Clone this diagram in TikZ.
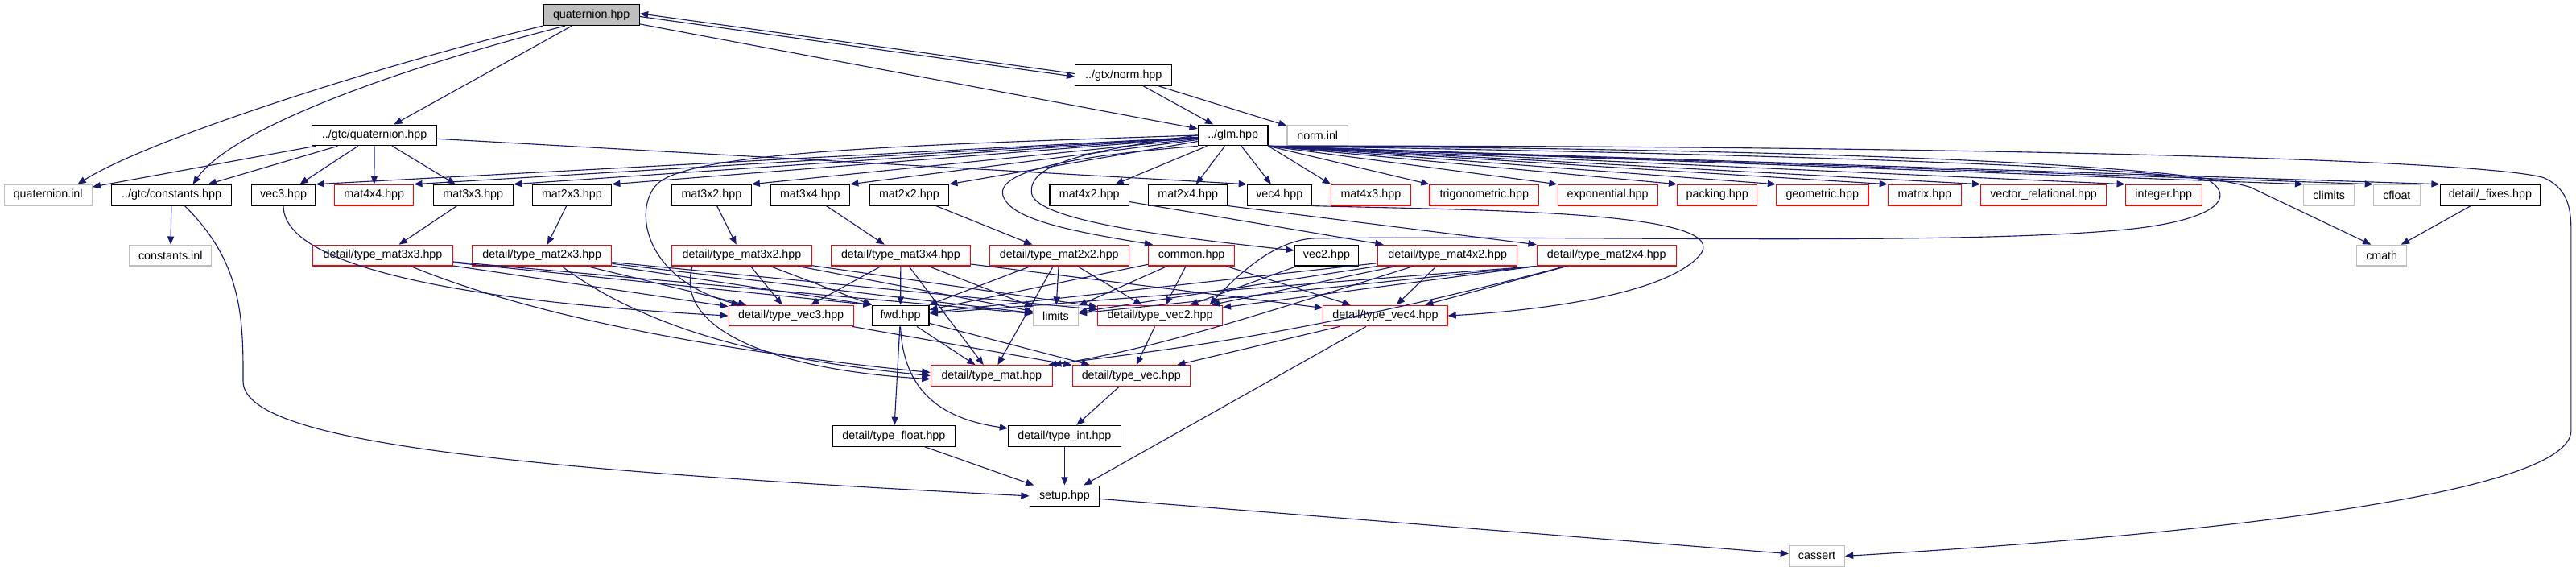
\documentclass[tikz,border=0pt]{standalone}
\usepackage{fontspec}
\setmainfont{Liberation Sans}
\usetikzlibrary{arrows.meta}
\definecolor{edgec}{HTML}{191970}
\definecolor{greyb}{HTML}{BFBFBF}
\begin{document}
\begin{tikzpicture}[x=1pt,y=1pt,
 nb/.style={draw=black, fill=white, line width=0.55pt, minimum height=12.6pt, inner sep=0pt, font=\fontsize{7}{8}\selectfont},
 nr/.style={nb, draw=red},
 ng/.style={nb, draw=greyb},
 dep/.style={draw=edgec, line width=0.55pt, -{Triangle[length=5pt,width=4pt]}}]
\useasboundingbox (0,0) rectangle (1568,-347.4);
% row 0-2
\node[nb, fill=greyb, minimum width=58.5pt] (q) at (360,-9.15) {quaternion.hpp};
\node[nb, minimum width=58.75pt] (norm) at (683.9,-45.75) {../gtx/norm.hpp};
\node[nb, minimum width=75.75pt] (gq) at (227.9,-82.3) {../gtc/quaternion.hpp};
\node[nb, minimum width=42.5pt] (glm) at (750.5,-82.3) {../glm.hpp};
\node[ng, minimum width=37pt] (ninl) at (802,-82.3) {norm.inl};
% row 3
\node[ng, minimum width=53.5pt] (qinl) at (29.25,-118.65) {quaternion.inl};
\node[nb, minimum width=73.25pt] (cons) at (104.4,-118.65) {../gtc/constants.hpp};
\node[nb, minimum width=39pt] (vec3) at (172.5,-118.65) {vec3.hpp};
\node[nr, minimum width=48pt] (m44) at (227.75,-118.65) {mat4x4.hpp};
\node[nb, minimum width=48.5pt] (m33) at (288,-118.65) {mat3x3.hpp};
\node[nb, minimum width=48.25pt] (m23) at (348.1,-118.65) {mat2x3.hpp};
\node[nb, minimum width=48.25pt] (m32) at (433.1,-118.65) {mat3x2.hpp};
\node[nb, minimum width=48.25pt] (m34) at (493.1,-118.65) {mat3x4.hpp};
\node[nb, minimum width=48.25pt] (m22) at (553.4,-118.65) {mat2x2.hpp};
\node[nb, minimum width=48.25pt] (m42) at (663.1,-118.65) {mat4x2.hpp};
\node[nb, minimum width=48.25pt] (m24) at (723.1,-118.65) {mat2x4.hpp};
\node[nb, minimum width=39pt] (vec4) at (778.75,-118.65) {vec4.hpp};
\node[nr, minimum width=48.25pt] (m43) at (834.4,-118.65) {mat4x3.hpp};
\node[nr, minimum width=66.5pt] (trig) at (903.5,-118.65) {trigonometric.hpp};
\node[nr, minimum width=60.75pt] (expo) at (978.6,-118.65) {exponential.hpp};
\node[nr, minimum width=48.5pt] (pack) at (1045.25,-118.65) {packing.hpp};
\node[nr, minimum width=56pt] (geom) at (1109.25,-118.65) {geometric.hpp};
\node[nr, minimum width=44.5pt] (matrix) at (1171.5,-118.65) {matrix.hpp};
\node[nr, minimum width=76.25pt] (vrel) at (1243.9,-118.65) {vector\_relational.hpp};
\node[nr, minimum width=46.5pt] (integer) at (1317,-118.65) {integer.hpp};
\node[ng, minimum width=30.75pt] (climits) at (1417.6,-118.65) {climits};
\node[ng, minimum width=28.25pt] (cfloat) at (1458.9,-118.65) {cfloat};
\node[nb, minimum width=61pt] (fixes) at (1515.75,-118.65) {detail/\_fixes.hpp};
% row 4
\node[ng, minimum width=50pt] (cinl) at (103.75,-155.4) {constants.inl};
\node[nr, minimum width=85pt] (tm33) at (233,-155.4) {detail/type\_mat3x3.hpp};
\node[nr, minimum width=84.75pt] (tm23) at (329.9,-155.4) {detail/type\_mat2x3.hpp};
\node[nr, minimum width=85pt] (tm32) at (451.5,-155.4) {detail/type\_mat3x2.hpp};
\node[nr, minimum width=85pt] (tm34) at (548.25,-155.4) {detail/type\_mat3x4.hpp};
\node[nr, minimum width=85pt] (tm22) at (644.75,-155.4) {detail/type\_mat2x2.hpp};
\node[nr, minimum width=52.5pt] (common) at (725.25,-155.4) {common.hpp};
\node[nb, minimum width=39pt] (vec2) at (807.5,-155.4) {vec2.hpp};
\node[nr, minimum width=84.75pt] (tm42) at (881.1,-155.4) {detail/type\_mat4x2.hpp};
\node[nr, minimum width=84.75pt] (tm24) at (977.9,-155.4) {detail/type\_mat2x4.hpp};
\node[ng, minimum width=30.5pt] (cmath) at (1449.75,-155.4) {cmath};
% row 5
\node[nr, minimum width=76pt] (tv3) at (481.5,-192.1) {detail/type\_vec3.hpp};
\node[nb, minimum width=34.75pt] (fwd) at (548.1,-192.1) {fwd.hpp};
\node[ng, minimum width=27.25pt] (limits) at (642.6,-192.1) {limits};
\node[nr, minimum width=75.75pt] (tv2) at (706.1,-192.1) {detail/type\_vec2.hpp};
\node[nr, minimum width=75.5pt] (tv4) at (843.25,-192.1) {detail/type\_vec4.hpp};
% row 6-9
\node[nr, minimum width=74.25pt] (tmat) at (603.6,-228.6) {detail/type\_mat.hpp};
\node[nr, minimum width=71.75pt] (tvec) at (688.6,-228.6) {detail/type\_vec.hpp};
\node[nb, minimum width=74.25pt] (tfloat) at (544.1,-265.25) {detail/type\_float.hpp};
\node[nb, minimum width=68.5pt] (tint) at (648,-265.25) {detail/type\_int.hpp};
\node[nb, minimum width=42.5pt] (setup) at (648,-301.8) {setup.hpp};
\node[ng, minimum width=33.75pt] (cassert) at (1105.9,-338.3) {cassert};

% quaternion.hpp
\draw[dep] (q.south west) .. controls (230,-40) and (90,-85) .. ([xshift=18pt]qinl.north);
\draw[dep] ([xshift=-16pt]q.south) .. controls (230,-45) and (140,-80) .. ([xshift=13pt]cons.north);
\draw[dep] (q) -- (gq);
\draw[dep] (q) -- (glm);
\draw[dep] ([yshift=-0.9pt]q.east) -- ([yshift=-0.9pt]norm.west);
\draw[dep] ([yshift=0.9pt]norm.west) -- ([yshift=0.9pt]q.east);
% norm
\draw[dep] (norm) -- (glm);
\draw[dep] (norm) -- (ninl);
% gtc/quaternion
\draw[dep] (gq) -- (qinl);
\draw[dep] (gq) -- (cons);
\draw[dep] (gq) -- (vec3);
\draw[dep] (gq) -- (m44);
\draw[dep] (gq) -- (m33);
\draw[dep] (gq) -- (vec4.north west);
% constants
\draw[dep] (cons) -- (cinl);
\draw[dep] ([xshift=8pt]cons.south) .. controls (148,-160) and (148,-195) .. (148,-232) .. controls (148,-268) and (300,-285) .. (setup.west);
% glm
\foreach \t in {vec3,m44,m33,m23,m32,m34,m22} \draw[dep] (glm) -- (\t.north east);
\foreach \t in {m42,m24,vec4} \draw[dep] (glm) -- (\t);
\foreach \t in {m43,trig,expo,pack,geom,matrix,vrel,integer,climits,cfloat,fixes} \draw[dep] (glm.south east) -- (\t.north west);
\draw[dep] (glm.south east) .. controls (1050,-90) and (1320,-98) .. (1370,-114) -- ([xshift=9pt]cmath.north west);
\draw[dep] (glm.south east) .. controls (1100,-88) and (1500,-95) .. (1548,-108) .. controls (1562,-114) and (1565,-125) .. (1565,-140) -- (1565,-262) .. controls (1565,-300) and (1350,-325) .. (cassert.east);
\draw[dep] (glm.south east) .. controls (1000,-92) and (1300,-100) .. (1345,-110) .. controls (1360,-120) and (1350,-133) .. (1300,-139) .. controls (1200,-150) and (950,-143) .. (800,-145) .. controls (780,-146) and (760,-160) .. ([xshift=-8pt]tv2.north east);
\draw[dep] (glm.south west) .. controls (650,-95) and (600,-105) .. (612,-122) .. controls (620,-135) and (660,-142) .. ([xshift=3pt]common.north west);
\draw[dep] (glm.west) .. controls (660,-92) and (625,-100) .. (628,-118) .. controls (632,-135) and (720,-145) .. ([yshift=3pt]vec2.west);
\draw[dep] (glm.west) .. controls (560,-88) and (420,-92) .. (400,-112) .. controls (385,-127) and (392,-170) .. ([xshift=7pt]tv3.north west);
% mat*.hpp
\draw[dep] (vec3.south) .. controls (172.5,-170) and (330,-186) .. (tv3.west);
\draw[dep] (m33) -- (tm33);
\draw[dep] (m23) -- (tm23);
\draw[dep] (m32) -- (tm32);
\draw[dep] (m34) -- (tm34);
\draw[dep] (m22) -- (tm22);
\draw[dep] (m42) -- (tm42);
\draw[dep] (m24.south east) -- (tm24.north west);
\draw[dep] (vec4.south east) .. controls (900,-128) and (1060,-128) .. (1034,-156) .. controls (1010,-182) and (920,-190) .. (tv4.east);
\draw[dep] (vec2) -- (tv2);
\draw[dep] (fixes) -- (cmath);
% detail/type_mat*
\draw[dep] (tm33) -- (tv3);
\draw[dep] (tm33) -- (fwd.north west);
\draw[dep] (tm33) -- (limits);
\draw[dep] ([xshift=17pt]tm33.south) .. controls (330,-195) and (450,-215) .. ([yshift=2pt]tmat.west);
\draw[dep] (tm23) -- (tv3);
\draw[dep] (tm23) -- (fwd.north west);
\draw[dep] (tm23) -- (limits);
\draw[dep] (tm23) -- (tv2);
\draw[dep] ([xshift=12pt]tm23.south) .. controls (400,-205) and (480,-220) .. (tmat.west);
\draw[dep] (tm32) -- (tv3);
\draw[dep] (tm32) -- (fwd);
\draw[dep] (tm32) -- (limits);
\draw[dep] (tm32) -- (tv2);
\draw[dep] ([xshift=-30pt]tm32.south) .. controls (410,-200) and (470,-225) .. ([yshift=-2pt]tmat.west);
\draw[dep] (tm34) -- (tv3);
\draw[dep] (tm34) -- (fwd);
\draw[dep] (tm34) -- (tmat);
\draw[dep] (tm34) -- (limits);
\draw[dep] (tm34) -- (tv4);
\draw[dep] (tm22) -- (fwd);
\draw[dep] (tm22) -- (limits);
\draw[dep] (tm22) -- (tmat);
\draw[dep] (tm22) -- (tv2);
\draw[dep] (common) -- (limits);
\draw[dep] (common) -- (tv2);
\draw[dep] (common) -- (tv4);
\draw[dep] (common) -- (fwd);
\draw[dep] (tm42) -- (tv4);
\draw[dep] (tm42) -- (tv2);
\draw[dep] (tm42) -- (limits);
\draw[dep] (tm42) -- (fwd);
\draw[dep] (tm42) .. controls (740,-200) and (700,-212) .. (tmat.north east);
\draw[dep] (tm24) -- (tv4);
\draw[dep] (tm24.south west) -- (tv2);
\draw[dep] (tm24.south west) -- (limits);
\draw[dep] (tm24.south west) -- (fwd);
\draw[dep] (tm24) .. controls (790,-205) and (700,-214) .. ([xshift=-3pt]tmat.north east);
% lower
\draw[dep] (fwd) -- (tfloat);
\draw[dep] (fwd.south) .. controls (550,-240) and (575,-255) .. ([yshift=-2pt]tint.north west);
\draw[dep] (fwd) -- (tmat);
\draw[dep] (fwd) -- (tvec);
\draw[dep] (tv3) -- (tvec);
\draw[dep] (tv2) -- (tvec);
\draw[dep] (tv4) -- (tvec);
\draw[dep] (tv4) -- (setup);
\draw[dep] (tvec) -- (tint);
\draw[dep] (tint) -- (setup);
\draw[dep] (tfloat) -- (setup);
\draw[dep] (setup) -- (cassert);
\end{tikzpicture}
\end{document}
